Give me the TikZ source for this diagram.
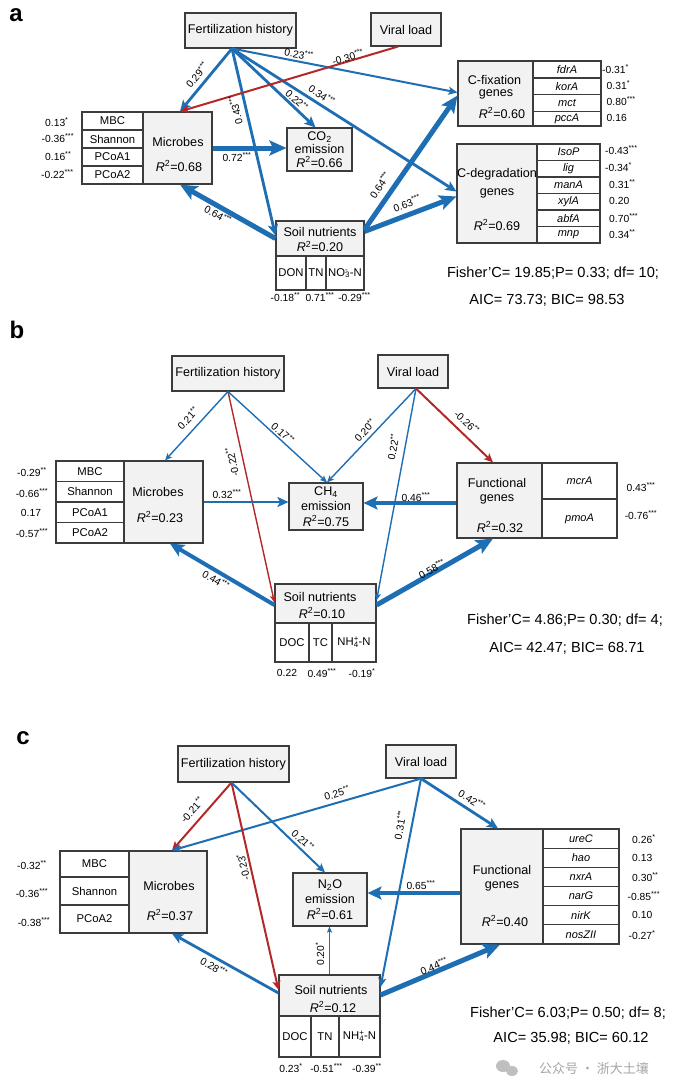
\documentclass[tikz,border=0pt]{standalone}
\usepackage{fontspec}
\setmainfont{Liberation Sans}
\newfontfamily\cjk{Noto Sans CJK SC}
\usetikzlibrary{arrows.meta}
\definecolor{bl}{RGB}{30,110,180}
\definecolor{rd}{RGB}{180,40,42}
\definecolor{bx}{RGB}{60,60,60}
\definecolor{bf}{RGB}{242,242,242}
\newcommand\ftitle{\fontsize{12.6}{14}\selectfont}
\newcommand\fcell{\fontsize{11.3}{13}\selectfont}
\newcommand\fgene{\fontsize{11}{13}\selectfont\itshape}
\newcommand\fval{\fontsize{10.3}{12}\selectfont}
\newcommand\fedge{\fontsize{10.3}{12}\selectfont}
\newcommand\ffish{\fontsize{14.6}{17}\selectfont}
\newcommand\fpanel{\fontsize{24}{26}\selectfont\bfseries}
\newcommand\sg[1]{\textsuperscript{#1}}
\newcommand\Rsq{\textit{R}\textsuperscript{2}}
\newcommand\ion[2]{\rlap{\textsuperscript{#2}}\textsubscript{#1}}
\newcommand\rbox[7]{\node[#1, minimum width={(#5-#3)*1pt}, minimum height={(#6-#4)*1pt}] (#2) at ({(#3+#5)/2},{(#4+#6)/2}) {#7};}
\tikzset{
 gbox/.style={draw=bx, fill=bf, line width=1.1pt, inner sep=0pt, font=\ftitle, align=center},
 cell/.style={draw=bx, fill=white, line width=1.1pt, inner sep=0pt, font=\fcell},
 gcell/.style={cell, font=\fgene},
 bt/.style={font=\ftitle, inner sep=0pt},
 val/.style={font=\fval, inner sep=0pt},
 lab/.style={font=\fedge, inner sep=0pt},
 fish/.style={font=\ffish, inner sep=0pt},
 wA/.style={line width=1.4pt, -{Stealth[length=7pt,width=6pt,inset=1.5pt]}},
 wB/.style={line width=2pt, -{Stealth[length=9pt,width=8pt,inset=2pt]}},
 wC/.style={line width=2.8pt, -{Stealth[length=11pt,width=10pt,inset=2.5pt]}},
 wD/.style={line width=4pt, -{Stealth[length=14pt,width=13pt,inset=3pt]}},
 wE/.style={line width=5pt, -{Stealth[length=17pt,width=15pt,inset=3.5pt]}},
 wZ/.style={line width=1.2pt, -{Stealth[length=6pt,width=5pt,inset=1.2pt]}},
}
\begin{document}
\begin{tikzpicture}[x=1pt,y=-1pt]
\fill[white] (0,0) rectangle (693,1084);
\useasboundingbox (0,0) rectangle (693,1084);
%%%%%%%%%%%%%%%% Panel a
\node[font=\fpanel] (pa) at (16,15) {a};
\rbox{gbox}{fa}{185}{13}{296}{48}{Fertilization history}
\rbox{gbox}{va}{371}{13}{441}{46}{Viral load}
\rbox{cell}{a1}{82}{112}{143}{130}{MBC}
\rbox{cell}{a2}{82}{130}{143}{148}{Shannon}
\rbox{cell}{a3}{82}{148}{143}{166}{PCoA1}
\rbox{cell}{a4}{82}{166}{143}{184}{PCoA2}
\rbox{gbox}{ma}{143}{112}{212}{184}{}
\node[bt] (mat) at (178,142) {Microbes};
\node[bt] (mar) at (179,166) {\Rsq=0.68};
\node[val,anchor=west] (av1) at (45,122) {0.13\sg{*}};
\node[val,anchor=west] (av2) at (41.5,138) {-0.36\sg{***}};
\node[val,anchor=west] (av3) at (45,156) {0.16\sg{**}};
\node[val,anchor=west] (av4) at (41,174) {-0.22\sg{***}};
\rbox{gbox, font={\fontsize{12.6}{13.5}\selectfont}}{ca}{287}{128}{352}{171}{CO\textsubscript{2}\\emission\\\Rsq=0.66}
\rbox{gbox}{sa}{276}{221}{364}{256}{}
\node[bt] (sat) at (320,232) {Soil nutrients};
\node[bt] (sar) at (320,246.5) {\Rsq=0.20};
\rbox{cell}{sa1}{276}{256}{306}{290}{DON}
\rbox{cell}{sa2}{306}{256}{326}{290}{TN}
\rbox{cell}{sa3}{326}{256}{364}{290}{NO\ion{3}{-}-N}
\node[val] (sv1) at (285.5,297) {-0.18\sg{**}};
\node[val] (sv2) at (320,297) {0.71\sg{***}};
\node[val] (sv3) at (354.5,297) {-0.29\sg{***}};
\rbox{gbox}{fxa}{458}{61}{533}{126}{}
\node[bt] (fxt1) at (494.5,80) {C-fixation};
\node[bt] (fxt2) at (496,94) {genes};
\node[bt] (fxt3) at (502,113) {\Rsq=0.60};
\rbox{gcell}{fx1}{533}{61}{601}{78}{fdrA}
\rbox{gcell}{fx2}{533}{78}{601}{94.5}{korA}
\rbox{gcell}{fx3}{533}{94.5}{601}{111.5}{mct}
\rbox{gcell}{fx4}{533}{111.5}{601}{126}{pccA}
\node[val,anchor=west] (fv1) at (602,69) {-0.31\sg{*}};
\node[val,anchor=west] (fv2) at (606.5,85) {0.31\sg{*}};
\node[val,anchor=west] (fv3) at (606.5,101) {0.80\sg{***}};
\node[val,anchor=west] (fv4) at (606.5,118) {0.16};
\rbox{gbox}{cda}{457}{144}{537}{243}{}
\node[bt] (cdt1) at (497,174) {C-degradation};
\node[bt] (cdt2) at (497,193) {genes};
\node[bt] (cdt3) at (497,225) {\Rsq=0.69};
\rbox{gcell}{cd1}{537}{144}{600}{160.5}{IsoP}
\rbox{gcell}{cd2}{537}{160.5}{600}{177}{lig}
\rbox{gcell}{cd3}{537}{177}{600}{193.5}{manA}
\rbox{gcell}{cd4}{537}{193.5}{600}{210}{xylA}
\rbox{gcell}{cd5}{537}{210}{600}{226.5}{abfA}
\rbox{gcell}{cd6}{537}{226.5}{600}{243}{mnp}
\node[val,anchor=west] (cv1) at (605,150) {-0.43\sg{***}};
\node[val,anchor=west] (cv2) at (605,167) {-0.34\sg{*}};
\node[val,anchor=west] (cv3) at (609,184) {0.31\sg{**}};
\node[val,anchor=west] (cv4) at (609,201) {0.20};
\node[val,anchor=west] (cv5) at (609,218) {0.70\sg{***}};
\node[val,anchor=west] (cv6) at (609,234) {0.34\sg{**}};
\node[fish] (fisha) at (553,273) {Fisher'C= 19.85;P= 0.33; df= 10;};
\node[fish] (aica) at (547,300) {AIC= 73.73; BIC= 98.53};
% edges a
\draw[bl,wB] ([xshift=-8.5pt]fa.south) -- ([yshift=1pt]fxa.west);
\draw[bl,wC] ([xshift=-8.5pt]fa.south) -- ([xshift=2.5pt]ma.north);
\draw[bl,wC] ([xshift=-8.5pt]fa.south) -- ([yshift=3pt]sa.west);
\draw[bl,wC] ([xshift=-8.5pt]fa.south) -- ([xshift=-4pt]ca.north);
\draw[bl,wC] ([xshift=-8.5pt]fa.south) -- ([yshift=2pt]cda.west);
\draw[rd,wB] ([xshift=-8pt]va.south) -- ([xshift=2.5pt]ma.north);
\draw[bl,wE] (ma.east) -- (ma.east -| ca.west);
\draw[bl,wE] (sa.west) -- ([xshift=2.5pt]ma.south);
\draw[bl,wE] ([yshift=-9pt]sa.north east) -- ([yshift=-2pt]fxa.west);
\draw[bl,wE] ([yshift=-11pt]sa.north east) -- ([yshift=-3pt]cda.west);
\node[lab,rotate=-11] (la1) at (299,54) {0.23\sg{***}};
\node[lab,rotate=16] (la2) at (348,57) {-0.30\sg{***}};
\node[lab,rotate=50] (la3) at (197,75) {0.29\sg{***}};
\node[lab,rotate=103] (la4) at (235.5,110) {0.43\sg{***}};
\node[lab,rotate=-43] (la5) at (297,100) {0.22\sg{**}};
\node[lab,rotate=-34] (la6) at (322,95) {0.34\sg{***}};
\node[lab] (la7) at (237,157) {0.72\sg{***}};
\node[lab,rotate=-29] (la8) at (218,215) {0.64\sg{***}};
\node[lab,rotate=56] (la9) at (380,185) {0.64\sg{***}};
\node[lab,rotate=21] (la10) at (407,203) {0.63\sg{***}};
%%%%%%%%%%%%%%%% Panel b
\node[font=\fpanel] (pb) at (17,330) {b};
\rbox{gbox}{fb}{172}{356}{284}{391}{Fertilization history}
\rbox{gbox}{vb}{378}{355}{448}{388}{Viral load}
\rbox{cell}{b1}{56}{461}{124}{481.5}{MBC}
\rbox{cell}{b2}{56}{481.5}{124}{502}{Shannon}
\rbox{cell}{b3}{56}{502}{124}{522.5}{PCoA1}
\rbox{cell}{b4}{56}{522.5}{124}{543}{PCoA2}
\rbox{gbox}{mb}{124}{461}{203}{543}{}
\node[bt] (mbt) at (158,492) {Microbes};
\node[bt] (mbr) at (160,517) {\Rsq=0.23};
\node[val] (bv1) at (32,472) {-0.29\sg{**}};
\node[val] (bv2) at (32,493) {-0.66\sg{***}};
\node[val] (bv3) at (31,513) {0.17};
\node[val] (bv4) at (32,533) {-0.57\sg{***}};
\rbox{gbox, font={\fontsize{12.6}{15.5}\selectfont}}{chb}{289}{483}{363}{530}{CH\textsubscript{4}\\emission\\\Rsq=0.75}
\rbox{gbox}{fgb}{457}{463}{542}{538}{}
\node[bt] (fgbt1) at (497,483) {Functional};
\node[bt] (fgbt2) at (497,499) {genes};
\node[bt] (fgbt3) at (500,527) {\Rsq=0.32};
\rbox{gcell}{gb1}{542}{463}{617}{499}{mcrA}
\rbox{gcell}{gb2}{542}{499}{617}{538}{pmoA}
\node[val] (gbv1) at (641,487) {0.43\sg{***}};
\node[val] (gbv2) at (641,515) {-0.76\sg{***}};
\rbox{gbox}{sb}{275}{584}{376}{623}{}
\node[bt] (sbt) at (320,597) {Soil nutrients};
\node[bt] (sbr) at (322,613) {\Rsq=0.10};
\rbox{cell}{sb1}{275}{623}{309}{662}{DOC}
\rbox{cell}{sb2}{309}{623}{332}{662}{TC}
\rbox{cell}{sb3}{332}{623}{376}{662}{NH\ion{4}{+}-N}
\node[val] (sbv1) at (287,673) {0.22};
\node[val] (sbv2) at (322,673) {0.49\sg{***}};
\node[val] (sbv3) at (362,673) {-0.19\sg{*}};
\node[fish] (fishb) at (565,620) {Fisher'C= 4.86;P= 0.30; df= 4;};
\node[fish] (aicb) at (567,648) {AIC= 42.47; BIC= 68.71};
% edges b
\draw[bl,wA] (fb.south) -- ([xshift=1.5pt]mb.north);
\draw[rd,wA] (fb.south) -- ([yshift=1pt]sb.west);
\draw[bl,wA] (fb.south) -- ([xshift=1pt]chb.north);
\draw[bl,wA] ([xshift=3pt]vb.south) -- ([xshift=1pt]chb.north);
\draw[bl,wA] ([xshift=3pt]vb.south) -- ([yshift=3pt]sb.east);
\draw[rd,wB] ([xshift=3pt]vb.south) -- ([xshift=-6.5pt]fgb.north);
\draw[bl,wC] (mb.east) -- (mb.east -| chb.west);
\draw[bl,wD] ([yshift=-2.5pt]fgb.west) -- ([yshift=-2.5pt]fgb.west -| chb.east);
\draw[bl,wD] ([yshift=-1.5pt]sb.west) -- ([xshift=6.5pt]mb.south);
\draw[bl,wE] ([yshift=-1.5pt]sb.east) -- ([xshift=-6.5pt]fgb.south);
\node[lab,rotate=47] (lb1) at (188,418) {0.21\sg{**}};
\node[lab,rotate=102] (lb2) at (232,462) {-0.22\sg{**}};
\node[lab,rotate=-42] (lb3) at (283,433) {0.17\sg{**}};
\node[lab,rotate=47] (lb4) at (365,430) {0.20\sg{**}};
\node[lab,rotate=79] (lb5) at (393,447) {0.22\sg{**}};
\node[lab,rotate=-43] (lb6) at (467,422) {-0.26\sg{**}};
\node[lab] (lb7) at (227,494) {0.32\sg{***}};
\node[lab] (lb8) at (416,497) {0.46\sg{***}};
\node[lab,rotate=-30] (lb9) at (216,580) {0.44\sg{***}};
\node[lab,rotate=29] (lb10) at (432,569) {0.58\sg{***}};
%%%%%%%%%%%%%%%% Panel c
\node[font=\fpanel] (pc) at (23,738) {c};
\rbox{gbox}{fc}{178}{746}{289}{782}{Fertilization history}
\rbox{gbox}{vc}{386}{745}{456}{778}{Viral load}
\rbox{cell}{c1}{60}{851}{129}{877}{MBC}
\rbox{cell}{c2}{60}{877}{129}{905}{Shannon}
\rbox{cell}{c3}{60}{905}{129}{933}{PCoA2}
\rbox{gbox}{mc}{129}{851}{207}{933}{}
\node[bt] (mct) at (169,886) {Microbes};
\node[bt] (mcr) at (170,915) {\Rsq=0.37};
\node[val] (cv1c) at (32,865) {-0.32\sg{**}};
\node[val] (cv2c) at (32,893) {-0.36\sg{***}};
\node[val] (cv3c) at (34,922) {-0.38\sg{***}};
\rbox{gbox, font={\fontsize{12.6}{15.5}\selectfont}}{nc}{293}{873}{367}{926}{N\textsubscript{2}O\\emission\\\Rsq=0.61}
\rbox{gbox}{fgc}{461}{829}{543}{944}{}
\node[bt] (fgct1) at (502,870) {Functional};
\node[bt] (fgct2) at (502,886) {genes};
\node[bt] (fgct3) at (505,921) {\Rsq=0.40};
\rbox{gcell}{gc1}{543}{829}{619}{848.17}{ureC}
\rbox{gcell}{gc2}{543}{848.17}{619}{867.33}{hao}
\rbox{gcell}{gc3}{543}{867.33}{619}{886.5}{nxrA}
\rbox{gcell}{gc4}{543}{886.5}{619}{905.67}{narG}
\rbox{gcell}{gc5}{543}{905.67}{619}{924.83}{nirK}
\rbox{gcell}{gc6}{543}{924.83}{619}{944}{nosZII}
\node[val,anchor=west] (gcv1) at (632,839) {0.26\sg{*}};
\node[val,anchor=west] (gcv2) at (632,858) {0.13};
\node[val,anchor=west] (gcv3) at (632,877) {0.30\sg{**}};
\node[val,anchor=west] (gcv4) at (627.5,896) {-0.85\sg{***}};
\node[val,anchor=west] (gcv5) at (632,915) {0.10};
\node[val,anchor=west] (gcv6) at (628.5,935) {-0.27\sg{*}};
\rbox{gbox}{sc}{279}{975}{380}{1016}{}
\node[bt] (sct) at (331,990) {Soil nutrients};
\node[bt] (scr) at (333,1007) {\Rsq=0.12};
\rbox{cell}{sc1}{279}{1016}{311}{1057}{DOC}
\rbox{cell}{sc2}{311}{1016}{339}{1057}{TN}
\rbox{cell}{sc3}{339}{1016}{380}{1057}{NH\ion{4}{+}-N}
\node[val] (scv1) at (291,1068) {0.23\sg{*}};
\node[val] (scv2) at (326.5,1068) {-0.51\sg{***}};
\node[val] (scv3) at (367,1068) {-0.39\sg{**}};
\node[fish] (fishc) at (568,1013) {Fisher'C= 6.03;P= 0.50; df= 8;};
\node[fish] (aicc) at (571,1038) {AIC= 35.98; BIC= 60.12};
% watermark
\fill[black!25] (503,1066) ellipse (7pt and 6pt);
\fill[black!25] (512,1071) ellipse (6pt and 5pt);
\node[font={\cjk\fontsize{13}{15}\selectfont}, text=black!35] (wm) at (594,1068) {公众号 · 浙大土壤};
% edges c
\draw[rd,wB] ([xshift=-2pt]fc.south) -- ([xshift=4pt]mc.north);
\draw[bl,wB] (vc.south) -- ([xshift=4pt]mc.north);
\draw[rd,wB] ([xshift=-2pt]fc.south) -- ([yshift=5.5pt]sc.west);
\draw[bl,wB] ([xshift=-2pt]fc.south) -- ([xshift=-5pt]nc.north);
\draw[bl,wB] (vc.south) -- ([yshift=8.5pt]sc.east);
\draw[bl,wC] (vc.south) -- ([xshift=-4pt]fgc.north);
\draw[bl,wD] ([yshift=-6.5pt]fgc.west) -- ([yshift=-6.5pt]fgc.west -| nc.east);
\draw[bl,wZ] (sc.north) -- (sc.north |- nc.south);
\draw[bl,wC] ([yshift=2.5pt]sc.west) -- ([xshift=4pt]mc.south);
\draw[bl,wE] ([yshift=0.5pt]sc.east) -- ([xshift=-2pt]fgc.south);
\node[lab,rotate=48] (lc1) at (192,810) {-0.21\sg{**}};
\node[lab,rotate=17] (lc2) at (337,793) {0.25\sg{**}};
\node[lab,rotate=103] (lc3) at (243,867) {-0.23\sg{*}};
\node[lab,rotate=-43] (lc4) at (303,840) {0.21\sg{**}};
\node[lab,rotate=79] (lc5) at (400,825) {0.31\sg{***}};
\node[lab,rotate=-32] (lc6) at (472,800) {0.42\sg{***}};
\node[lab] (lc7) at (421,885) {0.65\sg{***}};
\node[lab,rotate=90] (lc8) at (320,954) {0.20\sg{*}};
\node[lab,rotate=-30] (lc9) at (214,967) {0.28\sg{***}};
\node[lab,rotate=23] (lc10) at (434,966) {0.44\sg{***}};
\end{tikzpicture}
\end{document}
